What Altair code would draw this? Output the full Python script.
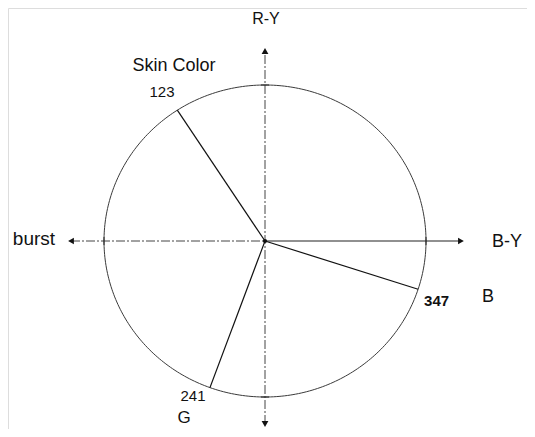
import numpy as np
import pandas as pd
import altair as alt

# ---- data ----
vector_labels = ["123", "241", "347"]        # printed angle labels (degrees)
vector_drawn_deg = [123, 250, 342]           # angle at which each vector is drawn in the figure
vector_names = ["Skin Color", "G", "B"]
axis_names = ["R-Y", "burst", "B-Y"]

FONT = "Liberation Sans"

# ---- scales (data units: circle radius = 1) ----
W, H = 519, 421
xdom = [-1.5963, 1.6273]
ydom = [-1.2051, 1.4936]
xs = alt.Scale(domain=xdom, nice=False, zero=False)
ys = alt.Scale(domain=ydom, nice=False, zero=False)

def X(f="x"):
    return alt.X(f"{f}:Q", scale=xs, axis=None)

def Y(f="y"):
    return alt.Y(f"{f}:Q", scale=ys, axis=None)

# circle outline (geometry)
t = np.linspace(0, 2 * np.pi, 361)
circle_df = pd.DataFrame({"x": np.cos(t), "y": np.sin(t), "i": np.arange(len(t))})
circle = alt.Chart(circle_df).mark_line(color="#3a3a3a", strokeWidth=1).encode(
    x=X(), y=Y(), order="i:Q"
)

# vectors from the centre
rad = np.deg2rad(vector_drawn_deg)
vec_df = pd.DataFrame({
    "x": 0.0, "y": 0.0,
    "x2": np.cos(rad), "y2": np.sin(rad),
    "label": vector_labels,
})
vectors = alt.Chart(vec_df).mark_rule(color="#111", strokeWidth=1.2).encode(
    x=X(), y=Y(), x2="x2:Q", y2="y2:Q"
)

# axes
ax_df = pd.DataFrame({
    "x": [0.0, -1.205, 0.0],
    "x2": [0.0, 0.0, 1.217],
    "y": [-1.173, 0.0, 0.0],
    "y2": [1.218, 0.0, 0.0],
    "kind": ["v", "l", "r"],
})
axes_dashed = alt.Chart(ax_df[ax_df.kind != "r"]).mark_rule(
    color="#444", strokeWidth=1, strokeDash=[9, 2, 2, 2]
).encode(x=X(), y=Y(), x2="x2:Q", y2="y2:Q")
axes_solid = alt.Chart(ax_df[ax_df.kind == "r"]).mark_rule(
    color="#222", strokeWidth=1.1
).encode(x=X(), y=Y(), x2="x2:Q", y2="y2:Q")

# small cross ticks where axes meet the circle
tick_df = pd.DataFrame({
    "x": [-0.025, -0.025, -1.0, 1.0],
    "x2": [0.025, 0.025, -1.0, 1.0],
    "y": [1.0, -1.0, -0.025, -0.025],
    "y2": [1.0, -1.0, 0.025, 0.025],
})
ticks = alt.Chart(tick_df).mark_rule(color="#222", strokeWidth=1).encode(
    x=X(), y=Y(), x2="x2:Q", y2="y2:Q"
)

# arrowheads
head_df = pd.DataFrame({
    "x": [1.217, -1.205, 0.0, 0.0],
    "y": [0.0, 0.0, 1.218, -1.173],
    "shape": ["triangle-right", "triangle-left", "triangle-up", "triangle-down"],
})
heads = alt.Chart(head_df).mark_point(filled=True, color="#111", size=45, opacity=1).encode(
    x=X(), y=Y(), shape=alt.Shape("shape:N", scale=None, legend=None)
)

centre = alt.Chart(pd.DataFrame({"x": [0.0], "y": [0.0]})).mark_point(
    filled=True, color="#111", size=18, opacity=1
).encode(x=X(), y=Y())

# text annotations (layout positions in data units)
txt_rows = [
    {"t": axis_names[0], "x": 0.006, "y": 1.425, "a": "center", "s": 16, "w": "normal"},
    {"t": vector_names[0], "x": -0.565, "y": 1.125, "a": "center", "s": 18, "w": "normal"},
    {"t": vector_labels[0], "x": -0.64, "y": 0.955, "a": "center", "s": 15, "w": "normal"},
    {"t": axis_names[1], "x": -1.304, "y": 0.013, "a": "right", "s": 19, "w": "normal"},
    {"t": axis_names[2], "x": 1.41, "y": -0.006, "a": "left", "s": 18, "w": "normal"},
    {"t": vector_names[2], "x": 1.348, "y": -0.359, "a": "left", "s": 18, "w": "normal"},
    {"t": vector_labels[2], "x": 0.988, "y": -0.385, "a": "left", "s": 15, "w": "bold"},
    {"t": vector_labels[1], "x": -0.447, "y": -0.994, "a": "center", "s": 15, "w": "normal"},
    {"t": vector_names[1], "x": -0.503, "y": -1.132, "a": "center", "s": 17, "w": "normal"},
]
text_layers = []
for r in txt_rows:
    text_layers.append(
        alt.Chart(pd.DataFrame([r])).mark_text(
            font=FONT, fontSize=r["s"], fontWeight=r["w"], align=r["a"],
            baseline="middle", color="#111"
        ).encode(x=X(), y=Y(), text="t:N")
    )

chart = alt.layer(
    circle, axes_dashed, axes_solid, ticks, vectors, heads, centre, *text_layers
).properties(
    width=W, height=H, padding=0,
    autosize=alt.AutoSizeParams(type="none"),
).configure_view(stroke=None).configure(background="white")

chart.save("out.html", embed_options={"renderer": "svg", "actions": False})
